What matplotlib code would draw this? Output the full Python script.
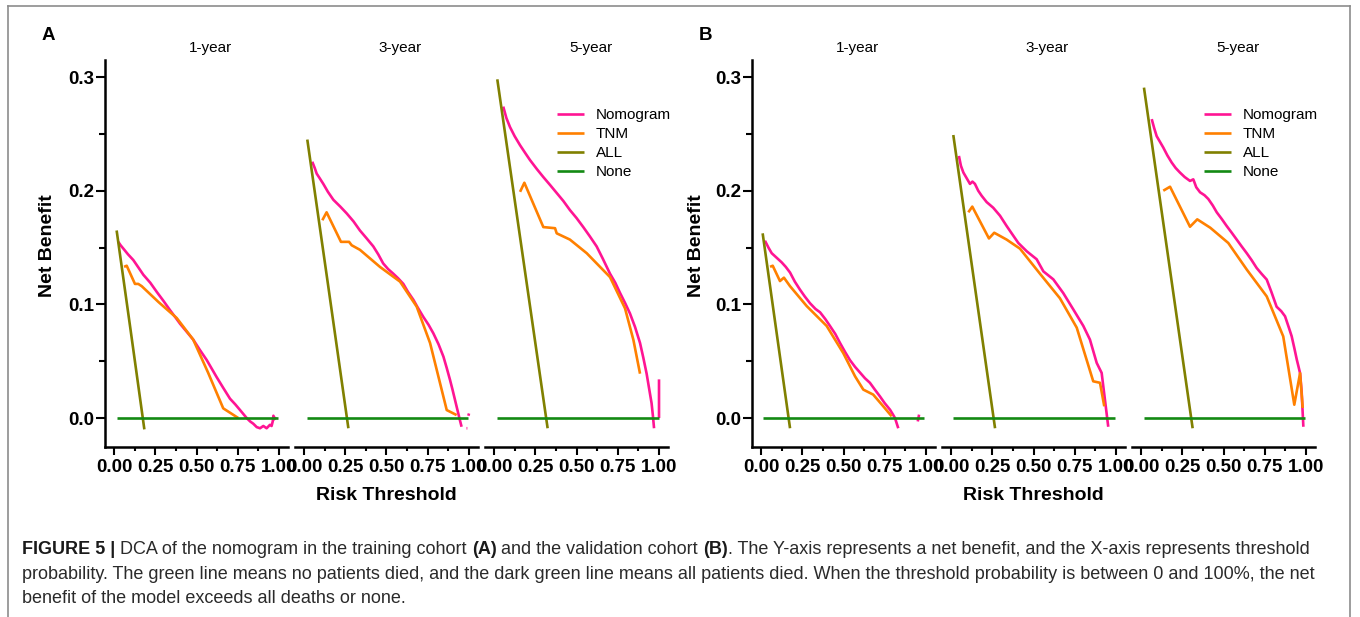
import matplotlib
matplotlib.use("Agg")
import matplotlib.pyplot as plt
import numpy as np
from matplotlib.lines import Line2D

plt.rcParams['font.family'] = ['Liberation Sans', 'DejaVu Sans']

W, H = 1360, 617

# ---------------- data ----------------
series_names = ["Nomogram", "TNM", "ALL", "None"]
series_colors = ["#FF1493", "#FF8000", "#808000", "#138A13"]
subplot_titles = ["1-year", "3-year", "5-year"]
x_ticks = [0.0, 0.25, 0.5, 0.75, 1.0]
x_ticklabels = ["0.00", "0.25", "0.50", "0.75", "1.00"]
y_ticks = [0.0, 0.1, 0.2, 0.3]
y_ticklabels = ["0.0", "0.1", "0.2", "0.3"]

# Panel A (training cohort)
A1_nom_t = [0.026, 0.040, 0.057, 0.085, 0.117, 0.150, 0.178, 0.220, 0.259, 0.300, 0.339, 0.370, 0.400, 0.440, 0.480,
            0.520, 0.562, 0.590, 0.622, 0.660, 0.703, 0.735, 0.764, 0.804, 0.825, 0.844, 0.865, 0.885, 0.905, 0.925,
            0.945, 0.955, 0.962, 0.966, 0.972, 0.980]
A1_nom_v = [0.155, 0.152, 0.149, 0.144, 0.139, 0.132, 0.126, 0.119, 0.111, 0.103, 0.095, 0.089, 0.083, 0.076, 0.069,
            0.060, 0.051, 0.044, 0.036, 0.027, 0.017, 0.012, 0.007, 0.000, -0.003, -0.005, -0.008, -0.009, -0.007, -0.009,
            -0.006, -0.007, -0.003, 0.002, -0.001, 0.001]
A1_tnm_t = [0.061, 0.077, 0.127, 0.147, 0.168, 0.270, 0.380, 0.480, 0.570, 0.662, 0.753]
A1_tnm_v = [0.133, 0.134, 0.118, 0.118, 0.116, 0.102, 0.088, 0.069, 0.040, 0.0085, 0.000]
A1_all_t = [0.016, 0.100, 0.184]
A1_all_v = [0.165, 0.078, -0.010]
A1_none_t = [0.016, 0.996]
A1_none_v = [0.0, 0.0]

A2_nom_t = [0.050, 0.065, 0.077, 0.095, 0.117, 0.145, 0.178, 0.220, 0.259, 0.300, 0.339, 0.380, 0.420, 0.450, 0.480,
            0.510, 0.541, 0.570, 0.602, 0.630, 0.663, 0.690, 0.723, 0.755, 0.784, 0.815, 0.845, 0.865, 0.885, 0.900,
            0.915, 0.925, 0.935, 0.945, 0.955, np.nan, 0.985, 0.990, np.nan, 0.996, 1.000]
A2_nom_v = [0.2255, 0.220, 0.215, 0.211, 0.206, 0.199, 0.192, 0.186, 0.180, 0.173, 0.165, 0.158, 0.151, 0.144, 0.136,
            0.131, 0.127, 0.123, 0.118, 0.111, 0.104, 0.097, 0.089, 0.082, 0.0745, 0.065, 0.054, 0.044, 0.0335, 0.025,
            0.016, 0.010, 0.004, -0.002, -0.0077, np.nan, -0.009, -0.009, np.nan, 0.002, 0.004]
A2_tnm_t = [0.111, 0.137, 0.224, 0.273, 0.289, 0.339, 0.460, 0.582, 0.683, 0.764, 0.865, 0.925]
A2_tnm_v = [0.174, 0.181, 0.155, 0.155, 0.152, 0.148, 0.133, 0.120, 0.098, 0.066, 0.007, 0.0026]
A2_all_t = [0.020, 0.145, 0.269]
A2_all_v = [0.245, 0.118, -0.009]
A2_none_t = [0.020, 0.996]
A2_none_v = [0.0, 0.0]

A3_nom_t = [0.056, 0.075, 0.097, 0.125, 0.158, 0.190, 0.218, 0.260, 0.299, 0.340, 0.380, 0.420, 0.460, 0.500, 0.541,
            0.580, 0.622, 0.660, 0.703, 0.735, 0.764, 0.795, 0.824, 0.855, 0.885, 0.905, 0.925, 0.940, 0.955, 0.963,
            0.970, np.nan, 1.000, 1.000]
A3_nom_v = [0.274, 0.264, 0.256, 0.248, 0.240, 0.233, 0.227, 0.219, 0.212, 0.205, 0.198, 0.191, 0.183, 0.176, 0.168,
            0.160, 0.151, 0.140, 0.127, 0.119, 0.110, 0.101, 0.092, 0.080, 0.066, 0.053, 0.039, 0.026, 0.013, 0.002,
            -0.009, np.nan, 0.000, 0.034]
A3_tnm_t = [0.158, 0.184, 0.240, 0.299, 0.370, 0.380, 0.460, 0.562, 0.703, 0.794, 0.845, 0.885]
A3_tnm_v = [0.199, 0.207, 0.188, 0.168, 0.167, 0.1625, 0.157, 0.145, 0.124, 0.0965, 0.0686, 0.039]
A3_all_t = [0.020, 0.325]
A3_all_v = [0.298, -0.009]
A3_none_t = [0.020, 1.000]
A3_none_v = [0.0, 0.0]

# Panel B (validation cohort)
B1_nom_t = [0.024, 0.045, 0.065, 0.095, 0.125, 0.150, 0.176, 0.205, 0.236, 0.265, 0.297, 0.330, 0.358, 0.390, 0.418,
            0.450, 0.479, 0.510, 0.539, 0.570, 0.600, 0.630, 0.660, 0.690, 0.721, 0.750, 0.782, 0.800, 0.812, 0.832,
            np.nan, 0.950, 0.958]
B1_nom_v = [0.156, 0.150, 0.145, 0.141, 0.137, 0.133, 0.128, 0.120, 0.113, 0.107, 0.101, 0.096, 0.093, 0.087, 0.081,
            0.074, 0.066, 0.058, 0.051, 0.045, 0.040, 0.035, 0.031, 0.025, 0.019, 0.013, 0.0073, 0.003, 0.000, -0.009,
            np.nan, -0.003, 0.003]
B1_tnm_t = [0.055, 0.071, 0.115, 0.139, 0.176, 0.277, 0.398, 0.499, 0.570, 0.620, 0.680, 0.741, 0.792]
B1_tnm_v = [0.133, 0.134, 0.1205, 0.1235, 0.116, 0.0985, 0.081, 0.057, 0.0367, 0.025, 0.0206, 0.0103, 0.0015]
B1_all_t = [0.010, 0.176]
B1_all_v = [0.1625, -0.009]
B1_none_t = [0.010, 0.990]
B1_none_v = [0.0, 0.0]

B2_nom_t = [0.048, 0.060, 0.075, 0.095, 0.115, 0.130, 0.145, 0.165, 0.186, 0.216, 0.256, 0.297, 0.337, 0.370, 0.408,
            0.459, 0.519, 0.560, 0.620, 0.680, 0.741, 0.802, 0.842, 0.883, 0.913, 0.933, 0.953]
B2_nom_v = [0.2306, 0.222, 0.216, 0.211, 0.206, 0.208, 0.206, 0.200, 0.1955, 0.190, 0.185, 0.178, 0.169, 0.162, 0.154,
            0.1467, 0.1397, 0.129, 0.122, 0.110, 0.0956, 0.081, 0.069, 0.0485, 0.0397, 0.016, -0.0077]
B2_tnm_t = [0.105, 0.129, 0.230, 0.262, 0.337, 0.418, 0.539, 0.660, 0.762, 0.862, 0.903, 0.929]
B2_tnm_v = [0.181, 0.186, 0.158, 0.163, 0.157, 0.149, 0.127, 0.1054, 0.0795, 0.0323, 0.031, 0.0103]
B2_all_t = [0.014, 0.267]
B2_all_v = [0.249, -0.009]
B2_none_t = [0.014, 0.994]
B2_none_v = [0.0, 0.0]

B3_nom_t = [0.065, 0.080, 0.095, 0.115, 0.135, 0.160, 0.186, 0.210, 0.236, 0.265, 0.297, 0.317, 0.335, 0.358, 0.385,
            0.408, 0.435, 0.459, 0.490, 0.519, 0.550, 0.580, 0.610, 0.641, 0.670, 0.701, 0.730, 0.762, 0.790, 0.822,
            0.850, 0.873, 0.895, 0.913, 0.930, 0.944, 0.955, 0.964, 0.974, 0.984]
B3_nom_v = [0.263, 0.255, 0.248, 0.243, 0.238, 0.231, 0.2248, 0.220, 0.216, 0.212, 0.2086, 0.210, 0.203, 0.1986, 0.196,
            0.1927, 0.187, 0.181, 0.175, 0.169, 0.163, 0.157, 0.151, 0.145, 0.139, 0.132, 0.127, 0.1218, 0.111, 0.0979,
            0.094, 0.0895, 0.080, 0.072, 0.061, 0.0515, 0.045, 0.0395, 0.022, -0.0077]
B3_tnm_t = [0.135, 0.176, 0.297, 0.341, 0.420, 0.529, 0.641, 0.762, 0.862, 0.929, 0.964, 0.980]
B3_tnm_v = [0.200, 0.2035, 0.1683, 0.1748, 0.1674, 0.154, 0.1306, 0.107, 0.0718, 0.0117, 0.0395, 0.0088]
B3_all_t = [0.018, 0.313]
B3_all_v = [0.2907, -0.009]
B3_none_t = [0.018, 0.994]
B3_none_v = [0.0, 0.0]

panel_A = [
    [(A1_nom_t, A1_nom_v), (A1_tnm_t, A1_tnm_v), (A1_all_t, A1_all_v), (A1_none_t, A1_none_v)],
    [(A2_nom_t, A2_nom_v), (A2_tnm_t, A2_tnm_v), (A2_all_t, A2_all_v), (A2_none_t, A2_none_v)],
    [(A3_nom_t, A3_nom_v), (A3_tnm_t, A3_tnm_v), (A3_all_t, A3_all_v), (A3_none_t, A3_none_v)],
]
panel_B = [
    [(B1_nom_t, B1_nom_v), (B1_tnm_t, B1_tnm_v), (B1_all_t, B1_all_v), (B1_none_t, B1_none_v)],
    [(B2_nom_t, B2_nom_v), (B2_tnm_t, B2_tnm_v), (B2_all_t, B2_all_v), (B2_none_t, B2_none_v)],
    [(B3_nom_t, B3_nom_v), (B3_tnm_t, B3_tnm_v), (B3_all_t, B3_all_v), (B3_none_t, B3_none_v)],
]

caption_lines = [
    [("FIGURE 5 |", "bold"), (" DCA of the nomogram in the training cohort ", "normal"), ("(A)", "bold"),
     (" and the validation cohort ", "normal"), ("(B)", "bold"),
     (". The Y-axis represents a net benefit, and the X-axis represents threshold", "normal")],
    [("probability. The green line means no patients died, and the dark green line means all patients died. "
      "When the threshold probability is between 0 and 100%, the net", "normal")],
    [("benefit of the model exceeds all deaths or none.", "normal")],
]

# ---------------- figure ----------------
fig = plt.figure(figsize=(W / 100, H / 100), dpi=100)

AX_TOP, AX_BOT = 60, 447
AX_W = 183
YLIM = (-0.0255, 0.315)
XLIM = (-0.0545, 1.0545)


def fx(px):
    return px / W


def fy(py):
    return 1 - py / H


def make_panel(lefts, data, letter, letter_x, ylabel_x):
    axes = []
    for i, left in enumerate(lefts):
        ax = fig.add_axes([fx(left), fy(AX_BOT), AX_W / W, (AX_BOT - AX_TOP) / H])
        ax.set_xlim(*XLIM)
        ax.set_ylim(*YLIM)
        ax.patch.set_alpha(0)
        for s in ["top", "right"]:
            ax.spines[s].set_visible(False)
        ax.spines["bottom"].set_linewidth(1.8)
        ax.spines["left"].set_linewidth(1.8)
        ax.set_xticks(x_ticks)
        ax.set_xticklabels(x_ticklabels)
        ax.set_xticks([0.125, 0.375, 0.625, 0.875], minor=True)
        ax.tick_params(axis="x", which="major", length=5.5, width=1.5, pad=3.5, labelsize=13.5)
        ax.tick_params(axis="x", which="minor", length=3.0, width=1.5)
        for lab in ax.get_xticklabels():
            lab.set_fontweight("bold")
        if i == 0:
            ax.set_yticks(y_ticks)
            ax.set_yticklabels(y_ticklabels)
            ax.set_yticks([0.05, 0.15, 0.25], minor=True)
            ax.tick_params(axis="y", which="major", length=6.5, width=1.5, pad=1.5, labelsize=13.5)
            ax.tick_params(axis="y", which="minor", length=4.3, width=1.5)
            for lab in ax.get_yticklabels():
                lab.set_fontweight("bold")
        else:
            ax.spines["left"].set_visible(False)
            ax.set_yticks([])
        handles = []
        for (t, v), name, col in zip(data[i], series_names, series_colors):
            ln, = ax.plot(t, v, color=col, lw=1.9, label=name, solid_capstyle="butt", clip_on=False)
            handles.append(ln)
        if i == 2:
            ax.legend(handles=handles, loc="upper left", bbox_to_anchor=(fx(left + 72), fy(108)),
                      bbox_transform=fig.transFigure, frameon=False, fontsize=11,
                      handlelength=1.75, handletextpad=0.8, labelspacing=0.33, borderaxespad=0, borderpad=0)
        fig.text(fx(left + 105.5), fy(48), subplot_titles[i], ha="center", va="center", fontsize=11)
        axes.append(ax)
    fig.text(fx(letter_x), fy(35), letter, ha="center", va="center", fontsize=13.5, fontweight="bold")
    fig.text(fx(ylabel_x), fy(246), "Net Benefit", rotation=90, ha="center", va="center",
             fontsize=14, fontweight="bold")
    center = (lefts[0] + lefts[-1] + AX_W) / 2
    fig.text(fx(center), fy(496), "Risk Threshold", ha="center", va="center", fontsize=14, fontweight="bold")
    return axes


make_panel([105, 295, 485], panel_A, "A", 48, 48)
make_panel([752, 942, 1132], panel_B, "B", 705, 697)

# outer frame
frame_col = "#8c8c8c"
for (x0, y0, x1, y1) in [(8, 6, 1350, 6), (8, 6, 8, 617), (1350, 6, 1350, 617)]:
    fig.add_artist(Line2D([fx(x0), fx(x1)], [fy(y0), fy(y1)], color=frame_col, lw=1.2,
                          transform=fig.transFigure))

# caption
renderer = fig.canvas.get_renderer()
CAP_SIZE = 13.0
CAP_COL = "#2a2a2a"


def advance(txt, weight):
    a = fig.text(0, 0, txt + "x", fontsize=CAP_SIZE, fontweight=weight)
    b = fig.text(0, 0, "x", fontsize=CAP_SIZE, fontweight=weight)
    w = a.get_window_extent(renderer).width - b.get_window_extent(renderer).width
    a.remove()
    b.remove()
    return w


baselines = [554, 579, 603]
for line, base in zip(caption_lines, baselines):
    x = 22
    for txt, weight in line:
        fig.text(fx(x), fy(base), txt, fontsize=CAP_SIZE, fontweight=weight, ha="left", va="baseline",
                 color=CAP_COL if weight == "normal" else "#1a1a1a")
        x += advance(txt, weight)

fig.savefig("out.png", dpi=100)
